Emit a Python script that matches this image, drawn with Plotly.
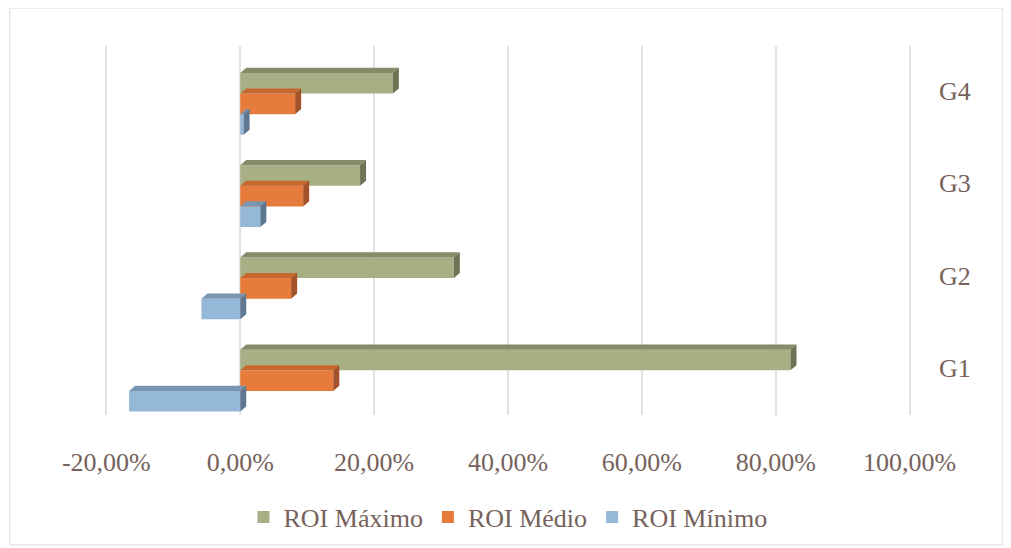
import plotly.graph_objects as go

# Data (ROI in %)
groups = ['G1', 'G2', 'G3', 'G4']
roi_maximo = [82.2, 31.9, 17.9, 22.8]
roi_medio = [13.9, 7.6, 9.4, 8.2]
roi_minimo = [-16.6, -5.8, 3.0, 0.5]
tick_vals = [-20, 0, 20, 40, 60, 80, 100]
tick_text = ['-20,00%', '0,00%', '20,00%', '40,00%', '60,00%', '80,00%', '100,00%']

text_color = '#76625B'
grid_color = '#E6E0DE'

# (name, values, front colour, top colour, side colour) - bottom to top within a group
series = [
    ('ROI Mínimo', roi_minimo, '#95B7D8', '#7A95B0', '#5E7891'),
    ('ROI Médio', roi_medio, '#E77B3C', '#C8682F', '#A3522A'),
    ('ROI Máximo', roi_maximo, '#A7AF84', '#868B6A', '#6E7356'),
]

fig = go.Figure()
ypos = list(range(len(groups)))
for name, vals, col, _, _ in series:
    fig.add_trace(go.Bar(
        x=vals, y=ypos, orientation='h', name=name,
        marker=dict(color=col, line=dict(width=0)),
    ))

# fake 3D top and side faces, computed from the data
bargap = 0.33
bw = (1 - bargap) / len(series)
dx, dy = 0.9, 0.055
shapes = []
for i, (name, vals, col, top, side) in enumerate(series):
    off = -(1 - bargap) / 2 + bw * (i + 0.5)
    for j, v in enumerate(vals):
        yc = j + off
        y0, y1 = yc - bw / 2, yc + bw / 2
        lo, hi = min(v, 0), max(v, 0)
        shapes.append(dict(type='path', xref='x', yref='y', layer='above',
                           path=f'M {lo},{y1} L {hi},{y1} L {hi+dx},{y1+dy} L {lo+dx},{y1+dy} Z',
                           fillcolor=top, line=dict(width=0)))
        shapes.append(dict(type='path', xref='x', yref='y', layer='above',
                           path=f'M {hi},{y0} L {hi},{y1} L {hi+dx},{y1+dy} L {hi+dx},{y0+dy} Z',
                           fillcolor=side, line=dict(width=0)))

# outer chart frame
shapes.append(dict(type='rect', xref='paper', yref='paper',
                   x0=-0.115, x1=1.111, y0=-0.352, y1=1.103,
                   line=dict(color='#D9D9D9', width=1), fillcolor='rgba(0,0,0,0)'))

# category labels sit slightly above the bar groups (3D perspective)
range_shift = 0.087
label_shift = 0.14

fig.update_layout(
    width=1011, height=548,
    margin=dict(l=95, r=106, t=38, b=141),
    paper_bgcolor='white', plot_bgcolor='white',
    barmode='group', bargap=bargap, bargroupgap=0,
    font=dict(family='Liberation Serif, Times New Roman, serif', size=26, color=text_color),
    showlegend=True,
    legend=dict(orientation='h', traceorder='reversed', x=0.5, xanchor='center',
                y=-0.277, yanchor='middle', font=dict(size=26, color=text_color),
                itemwidth=30),
    xaxis=dict(range=[-20.5, 100.5], tickvals=tick_vals, ticktext=tick_text,
               showgrid=True, gridcolor=grid_color, gridwidth=2,
               zeroline=True, zerolinecolor=grid_color, zerolinewidth=2,
               showline=False, ticks='', ticklabelstandoff=29),
    yaxis=dict(range=[-0.46 + range_shift, 3.54 + range_shift],
               tickvals=[p + label_shift for p in ypos], ticktext=groups, side='right',
               showgrid=False, zeroline=False, showline=False, ticks='',
               ticklabelstandoff=25),
    shapes=shapes,
)

fig.write_html('out.html')
